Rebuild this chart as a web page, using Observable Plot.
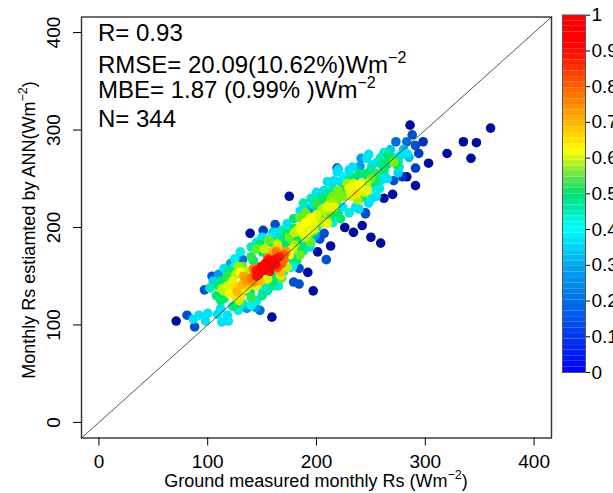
<!DOCTYPE html>
<html><head><meta charset="utf-8">
<script src="https://cdn.jsdelivr.net/npm/d3@7"></script>
<script src="https://cdn.jsdelivr.net/npm/@observablehq/plot@0.6"></script>
<style>
html,body{margin:0;padding:0;background:#fff;overflow:hidden;}
#wrap{position:relative;width:613px;height:493px;font-family:"Liberation Sans",Arial,sans-serif;color:#000;overflow:hidden;}
#main{position:absolute;left:0;top:0;}
#bar{position:absolute;left:556px;top:0;}
.stat{position:absolute;left:98px;font-size:24px;line-height:24px;white-space:nowrap;}
.stat sup{font-size:16px;position:relative;top:-10px;vertical-align:baseline;line-height:0;}
.xt{position:absolute;left:0;width:632px;text-align:center;top:472px;font-size:18px;line-height:18px;white-space:nowrap;}
.yt{position:absolute;width:320px;left:-131px;top:221px;text-align:center;font-size:18px;line-height:18px;white-space:nowrap;transform:rotate(-90deg);}
.xt sup,.yt sup{font-size:12.5px;position:relative;top:-8px;vertical-align:baseline;line-height:0;}
</style></head>
<body><div id="wrap"><div id="main"></div><div id="bar"></div></div>
<script>
// Ground measured monthly Rs (x), ANN estimate (y), normalised point density (colour)
const measured = [
 71,81,88,87,92,100,109,113,119,118,
 112,98,136,144,148,159,123,115,110,113,
 123,127,129,118,126,130,136,142,135,139,
 150,155,145,152,158,164,167,155,159,165,
 170,173,167,150,148,156,164,176,182,179,
 187,194,173,182,191,197,142,124,132,121,
 104,110,97,139,151,162,173,164,187,194,
 197,200,210,207,200,208,194,179,185,197,
 210,210,170,158,207,203,201,209,192,184,
 179,184,197,175,213,219,273,283,288,291,
 283,277,266,259,256,271,274,265,262,
 251,246,241,240,233,230,219,279,283,276,
 262,259,265,271,239,247,234,240,247,231,
 237,242,250,253,251,222,216,228,231,225,
 222,219,213,207,210,216,224,236,239,245,
 197,185,188,201,202,204,207,210,197,190,
 187,179,168,178,182,185,199,220,222,213,
 191,194,179,182,176,170,167,173,170,286,
 360,335,347,320,342,303,298,294,291,291,
 270,262,245,242,226,234,250,259,
 150,155,160,158,152,163,147,145,162,156,166,153,149,157,170,
 140,136,132,128,133,143,138,168,170,163,148,142,125,130,120,172,160,165,
 118,115,123,126,135,145,155,175,178,152,135,128,
 108,112,118,125,140,160,168,185,180,190,175,145,140,132,112,102,120,150,
 195,200,205,190,185,210,215,198,193,180,205,230,236,240,244,232,238,228,225,246,250,220,215,212,
 255,260,265,250,245,235,230,270,262,275,255,258,215,210,205,200,195,190,188,185,
 220,225,248,268,280,285,275,255,248,230,215,200,195,188,178,170,160,150,165,158,150,145,170,160,140,130,125,115,105,128,132,140,145,155,160,165
];
const estimated = [
 104,110,98,106,110,112,111,103,104,110,
 117,104,117,118,115,108,119,127,140,137,
 137,134,125,149,152,154,147,144,135,134,
 137,139,156,159,163,159,154,169,173,175,
 171,159,151,175,183,187,183,169,166,187,
 180,185,194,197,200,204,166,159,167,163,
 150,152,136,194,197,203,204,195,217,219,
 229,236,247,238,224,228,207,199,195,195,
 207,217,187,185,194,188,175,167,154,158,
 144,142,135,232,181,261,288,288,295,284,
 276,274,274,272,267,267,264,265,260,
 264,271,271,263,262,259,257,252,252,262,
 257,248,250,248,255,252,245,241,238,238,
 235,231,240,247,230,247,248,250,253,240,
 235,228,228,228,221,221,221,221,219,214,
 224,217,219,217,212,209,207,204,205,199,
 194,209,197,194,187,180,192,214,209,212,
 183,180,166,170,159,169,166,180,183,305,
 302,288,287,276,271,266,288,276,261,243,
 234,230,215,202,200,195,190,184,
 158,162,165,160,156,168,152,150,162,167,170,163,160,155,172,
 148,145,142,138,150,155,140,163,167,175,145,158,140,130,132,175,176,178,
 140,135,145,128,137,140,147,172,178,178,155,160,
 130,125,150,120,128,145,148,172,182,190,190,178,170,160,145,138,155,130,
 210,213,218,205,200,222,225,198,195,195,205,240,238,244,236,232,228,245,232,245,250,238,232,218,
 255,265,270,260,255,250,250,272,277,268,248,240,240,235,230,225,230,215,225,210,
 260,252,275,280,280,272,256,232,225,215,205,200,185,176,160,155,150,145,188,190,190,185,195,195,180,175,168,158,145,115,122,120,125,135,140,140
];
const density = [
 .03,.15,.15,.38,.38,.38,.38,.38,.38,.38,
 .38,.38,.27,.27,.2,.03,.45,.5,.5,.6,
 .63,.72,.6,.5,.6,.65,.75,.75,.5,.5,
 .38,.38,.9,.95,.97,.82,.72,.78,.72,.7,
 .63,.6,.62,.5,.5,.55,.6,.5,.48,.5,
 .5,.55,.5,.56,.63,.63,.5,.4,.2,.27,
 .15,.27,.15,.03,.12,.15,.38,.38,.15,.27,
 .38,.38,.38,.38,.5,.5,.63,.5,.5,.5,
 .56,.56,.5,.5,.15,.15,.03,.15,.03,.15,
 .15,.15,.03,.03,.03,.1,.2,.2,.15,.15,
 .38,.38,.5,.45,.38,.56,.5,.5,.5,
 .38,.38,.27,.27,.38,.38,.38,.1,.03,.38,
 .38,.38,.38,.15,.5,.5,.63,.63,.63,.63,
 .68,.5,.38,.5,.38,.38,.38,.38,.38,.5,
 .5,.56,.56,.5,.63,.63,.38,.38,.38,.15,
 .38,.38,.38,.5,.5,.56,.56,.63,.63,.63,
 .63,.5,.45,.5,.5,.5,.27,.5,.5,.5,
 .38,.38,.38,.38,.38,.74,.74,.5,.5,.03,
 .03,.03,.03,.03,.03,.03,.1,.12,.12,.03,
 .03,.03,.12,.03,.03,.03,.03,.03,
 .95,1,.98,1,.95,.93,.9,.88,.95,.92,.86,.97,.92,.9,.8,
 .78,.75,.72,.7,.74,.8,.7,.8,.78,.78,.72,.77,.68,.68,.66,.75,.72,.7,
 .62,.6,.63,.62,.64,.63,.62,.65,.62,.6,.6,.58,
 .5,.5,.52,.5,.52,.5,.55,.55,.58,.6,.55,.55,.52,.55,.5,.45,.5,.48,
 .64,.62,.6,.65,.64,.6,.58,.62,.63,.6,.6,.63,.66,.65,.6,.62,.58,.58,.56,.6,.55,.56,.55,.58,
 .52,.48,.45,.47,.5,.5,.45,.42,.42,.45,.48,.42,.45,.48,.5,.52,.45,.55,.45,.55,
 .35,.4,.38,.35,.32,.33,.35,.38,.38,.42,.42,.48,.42,.45,.4,.45,.5,.55,.45,.4,.38,.42,.42,.35,.45,.42,.4,.38,.35,.42,.45,.4,.42,.45,.48,.42
];
const axisLimits = [-16, 416];
const xTicks = [0, 100, 200, 300, 400];
const yTicks = [0, 100, 200, 300, 400];
const barTicks = [0, 0.1, 0.2, 0.3, 0.4, 0.5, 0.6, 0.7, 0.8, 0.9, 1];
const statLines = [
  ["R= 0.93", ""],
  ["RMSE= 20.09(10.62%)Wm", "\u22122"],
  ["MBE= 1.87 (0.99% )Wm", "\u22122"],
  ["N= 344", ""]
];
const statTops = [21, 53, 78, 107];
const xTitle = ["Ground measured monthly Rs (Wm", "\u22122", ")"];
const yTitle = ["Monthly Rs estiamted by ANN(Wm", "\u22122", ")"];

// jet-like palettes (points a bit darker at the low end, like the picture)
const pointStops = [0, .1, .2, .3, .4, .5, .57, .65, .73, .8, .88, 1];
const pointCols = ["#00008c","#0030c0","#0070d8","#00b0ee","#00f0f8","#00e870","#90f000","#ffff00","#ffb000","#ff6000","#ff1000","#ff0000"];
const barStops = [0, .1, .2, .3, .4, .5, .56, .62, .7, .8, .88, .92, 1];
const barCols = ["#0000ff","#0038f0","#0070e8","#00a8f0","#00ffff","#00e070","#80e840","#ffff00","#ffb400","#ff6000","#ff1800","#ff0000","#ff0000"];
const pointRamp = d3.scaleLinear().domain(pointStops).range(pointCols).clamp(true);
const barRamp = d3.scaleLinear().domain(barStops).range(barCols).clamp(true);

const pts = d3.sort(measured.map((m, i) => ({m, e: estimated[i], d: density[i]})), p => p.d);
const font = '"Liberation Sans", Arial, sans-serif';

const main = Plot.plot({
  width: 556, height: 493,
  marginLeft: 81, marginRight: 5, marginTop: 16.5, marginBottom: 55.5,
  style: {fontFamily: font, background: "transparent", overflow: "visible"},
  x: {domain: axisLimits},
  y: {domain: axisLimits},
  color: {type: "linear", domain: [0, 1], interpolate: t => pointRamp(t)},
  marks: [
    Plot.dot(pts, {x: "m", y: "e", fill: "d", r: 4.8}),
    Plot.line(axisLimits.map(v => ({v})), {x: "v", y: "v", stroke: "#444", strokeWidth: 0.9}),
    Plot.frame({stroke: "#333", strokeWidth: 1.4}),
    Plot.axisX({ticks: xTicks, tickSize: 8, tickPadding: 8, fontSize: 19, label: null, tickFormat: d => String(d)}),
    Plot.axisY({ticks: yTicks, tickSize: 8, tickPadding: 14, tickRotate: -90, fontSize: 19, label: null, tickFormat: d => String(d)})
  ]
});
document.getElementById("main").appendChild(main);

const levels = d3.range(64).map(i => i / 64);
const bar = Plot.plot({
  width: 57, height: 493,
  marginLeft: 6, marginRight: 28, marginTop: 14.7, marginBottom: 121,
  style: {fontFamily: font, background: "transparent", overflow: "visible"},
  y: {domain: [0, 1]},
  color: {type: "linear", domain: [0, 1], interpolate: t => barRamp(t)},
  marks: [
    Plot.rect(levels, {y1: d => d, y2: d => d + 1 / 64, fill: d => d + 0.5 / 64}),
    Plot.frame({stroke: "#555", strokeWidth: 1}),
    Plot.axisY({anchor: "right", ticks: barTicks, tickSize: 4, tickPadding: 2, fontSize: 19, label: null, tickFormat: d => String(d)})
  ]
});
document.getElementById("bar").appendChild(bar);

const wrap = document.getElementById("wrap");
statLines.forEach((s, i) => {
  const div = document.createElement("div");
  div.className = "stat";
  div.style.top = statTops[i] + "px";
  div.append(s[0]);
  if (s[1]) { const sup = document.createElement("sup"); sup.textContent = s[1]; div.append(sup); }
  wrap.appendChild(div);
});
function titled(cls, parts) {
  const div = document.createElement("div");
  div.className = cls;
  div.append(parts[0]);
  const sup = document.createElement("sup"); sup.textContent = parts[1]; div.append(sup);
  div.append(parts[2]);
  wrap.appendChild(div);
}
titled("xt", xTitle);
titled("yt", yTitle);
</script>
</body></html>
